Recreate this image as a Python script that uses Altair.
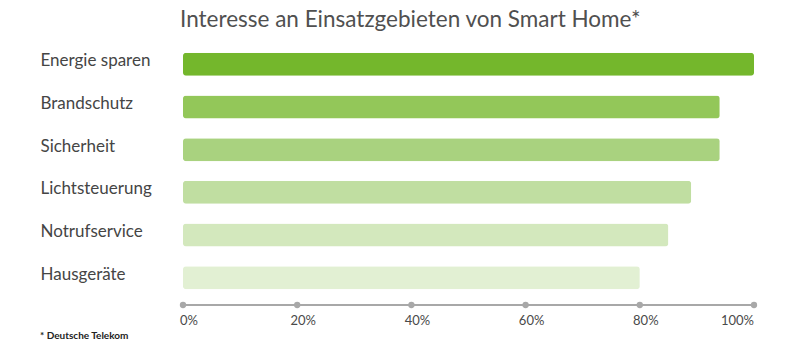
import altair as alt
import pandas as pd

categories = ["Energie sparen", "Brandschutz", "Sicherheit", "Lichtsteuerung", "Notrufservice", "Hausgeräte"]
values = [100, 94, 94, 89, 85, 80]
colors = ["#74b72c", "#93c759", "#a9d27f", "#c0dea1", "#d3e8bd", "#e2f0d3"]
ticks = [0, 20, 40, 60, 80, 100]
tick_labels = ["0%", "20%", "40%", "60%", "80%", "100%"]

df = pd.DataFrame({"cat": categories, "val": values, "color": colors})
tdf = pd.DataFrame({"t": ticks, "lab": tick_labels})

FONT = "Lato"
W, H = 571, 256

xscale = alt.Scale(domain=[0, 100], nice=False, zero=True)

bars = alt.Chart(df).mark_bar(cornerRadius=3).encode(
    x=alt.X("val:Q", scale=xscale, axis=None),
    y=alt.Y("cat:N", sort=categories,
            scale=alt.Scale(paddingInner=0.46, paddingOuter=0.23),
            axis=alt.Axis(title=None, domain=False, ticks=False, tickSize=0,
                          labelAlign="left", labelPadding=143, labelFontSize=17,
                          labelColor="#454545", labelFont=FONT, labelOffset=-3,
                          labelBaseline="middle")),
    color=alt.Color("color:N", scale=None, legend=None),
)

axis_line = alt.Chart(tdf).mark_rule(color="#a8a8a8", strokeWidth=2).encode(
    x=alt.X("min(t):Q", scale=xscale),
    x2="max(t):Q",
    y=alt.value(H + 6),
)

dots = alt.Chart(tdf).mark_circle(color="#a8a8a8", size=40, opacity=1).encode(
    x=alt.X("t:Q", scale=xscale),
    y=alt.value(H + 6),
)

labels_mid = alt.Chart(tdf).transform_filter("datum.t < 100").mark_text(
    fontSize=13, color="#4a4a4a", font=FONT, baseline="middle", align="center", dx=6
).encode(
    x=alt.X("t:Q", scale=xscale),
    y=alt.value(H + 22),
    text="lab:N",
)

labels_last = alt.Chart(tdf).transform_filter("datum.t >= 100").mark_text(
    fontSize=13, color="#4a4a4a", font=FONT, baseline="middle", align="right", dx=0
).encode(
    x=alt.X("t:Q", scale=xscale),
    y=alt.value(H + 22),
    text="lab:N",
)

foot = alt.Chart(pd.DataFrame({"f": ["* Deutsche Telekom"]})).mark_text(
    fontSize=10, fontWeight="bold", color="#222222", font=FONT, align="left", baseline="middle"
).encode(
    x=alt.value(-143),
    y=alt.value(H + 37),
    text="f:N",
)

chart = alt.layer(bars, axis_line, dots, labels_mid, labels_last, foot).properties(
    width=W, height=H,
    title=alt.TitleParams("Interesse an Einsatzgebieten von Smart Home*", anchor="start",
                          frame="group", fontSize=22.5, font=FONT, fontWeight="normal",
                          color="#505050", offset=12, dx=-3),
    autosize=alt.AutoSizeParams(type="none"),
    padding={"left": 183, "top": 43, "right": 46, "bottom": 55},
).configure_view(stroke=None)

chart.save("out.html", embed_options={"renderer": "svg", "actions": False})
